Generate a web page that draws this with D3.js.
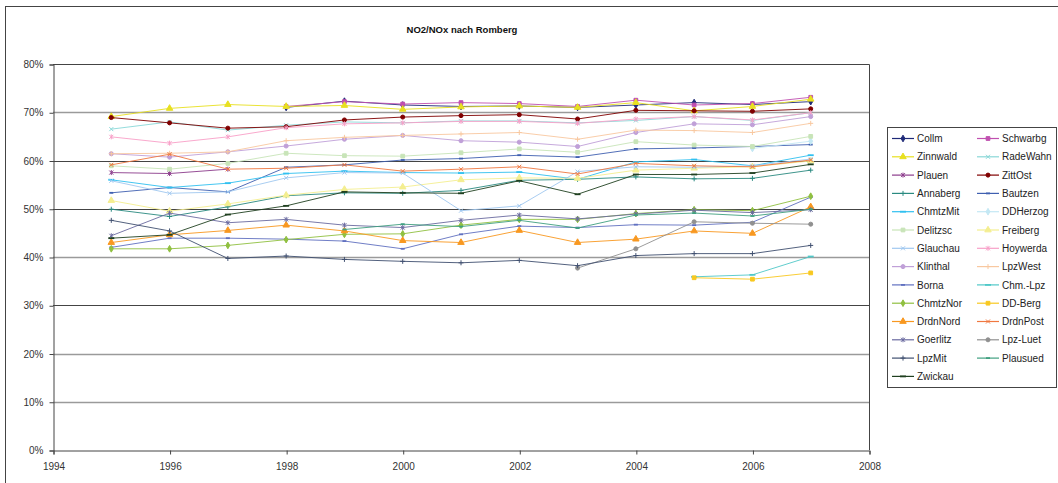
<!DOCTYPE html>
<html><head><meta charset="utf-8">
<script src="https://cdn.jsdelivr.net/npm/d3@7"></script>
<style>
html,body{margin:0;padding:0;background:#fff;overflow:hidden}
text{font-family:"Liberation Sans",Arial,sans-serif}
</style></head>
<body><svg id="c" width="1058" height="483"></svg>
<script>
const years = [1995,1996,1997,1998,1999,2000,2001,2002,2003,2004,2005,2006,2007];
const xTicks = [1994,1996,1998,2000,2002,2004,2006,2008];
const yTicks = [0,0.1,0.2,0.3,0.4,0.5,0.6,0.7,0.8];
const _ = null;
const collm    = [_,_,_,71.0,72.3,71.5,71.2,71.3,71.0,71.5,72.0,71.6,72.2];
const schwarbg = [_,_,_,71.2,72.2,71.7,72.0,71.8,71.2,72.5,71.5,71.8,73.1];
const zinnwald = [69.1,70.8,71.6,71.2,71.4,70.6,71.1,71.3,71.0,72.0,70.3,71.2,72.7];
const radeWahn = [66.5,68.0,66.3,67.3,68.0,67.8,68.2,68.2,67.8,68.3,69.1,68.3,69.9];
const plauen   = [57.5,57.3,58.2,_,_,_,_,_,_,_,_,_,_];
const zittOst  = [68.9,67.8,66.7,67.0,68.4,69.0,69.3,69.5,68.6,70.4,70.3,70.2,70.7];
const annaberg = [49.9,48.4,50.4,52.7,53.3,53.2,53.8,55.9,56.1,56.6,56.2,56.3,58.0];
const bautzen  = [53.3,54.4,53.5,58.6,59.1,60.1,60.4,61.1,60.7,62.4,62.6,62.9,63.3];
const chmtzMit = [56.0,54.4,55.3,57.3,57.8,57.5,57.4,57.6,56.1,59.7,60.2,58.9,61.1];
const ddHerzog = [_,_,_,_,_,_,_,_,_,_,_,62.5,64.0];
const delitzsc = [58.9,58.2,59.4,61.5,61.0,60.9,61.6,62.4,61.7,63.9,63.2,62.9,65.0];
const freiberg = [51.7,49.5,51.0,52.8,54.0,54.5,56.0,56.4,56.3,58.0,58.4,58.7,59.9];
const glauchau = [55.8,53.2,53.5,56.4,57.5,57.4,49.6,50.6,57.7,58.7,58.6,58.9,60.3];
const hoywerda = [64.9,63.6,64.9,66.8,67.6,67.8,68.1,68.1,67.7,68.6,69.1,68.4,69.9];
const klinthal = [61.4,60.7,61.8,63.0,64.4,65.2,64.1,63.8,62.9,65.8,67.6,67.4,69.1];
const lpzWest  = [61.4,61.5,61.8,64.1,64.8,65.2,65.5,65.8,64.4,66.3,66.2,65.8,67.7];
const borna    = [42.0,43.9,43.9,43.7,43.3,41.7,44.7,46.4,46.1,46.7,46.6,47.2,52.4];
const chmLpz   = [_,_,_,_,_,_,_,_,_,_,35.9,36.3,40.1];
const chmtzNor = [41.7,41.7,42.4,43.6,44.7,44.8,46.6,47.8,47.8,49.0,49.8,49.6,52.6];
const ddBerg   = [_,_,_,_,_,_,_,_,_,_,35.7,35.4,36.7];
const drdnNord = [43.0,44.6,45.5,46.6,45.4,43.4,43.0,45.5,43.0,43.7,45.4,44.9,50.4];
const drdnPost = [59.1,61.3,58.2,58.4,59.1,57.8,58.2,58.7,57.2,59.4,58.9,58.7,60.1];
const goerlitz = [44.4,49.1,47.1,47.8,46.6,46.1,47.6,48.7,47.9,48.9,49.7,49.2,49.8];
const lpzLuet  = [_,_,_,_,_,_,_,_,37.7,41.7,47.3,47.0,46.8];
const lpzMit   = [47.6,45.4,39.7,40.2,39.5,39.1,38.8,39.3,38.2,40.3,40.7,40.7,42.4];
const plausued = [_,_,_,_,45.7,46.8,46.3,47.6,46.0,48.7,49.1,48.5,49.9];
const zwickau  = [43.9,44.6,48.8,50.6,53.5,53.3,53.2,55.8,53.0,57.1,57.1,57.4,59.2];

const names  = ["Collm","Schwarbg","Zinnwald","RadeWahn","Plauen","ZittOst","Annaberg","Bautzen","ChmtzMit","DDHerzog","Delitzsc","Freiberg","Glauchau","Hoywerda","Klinthal","LpzWest","Borna","Chm.-Lpz","ChmtzNor","DD-Berg","DrdnNord","DrdnPost","Goerlitz","Lpz-Luet","LpzMit","Plausued","Zwickau"];
const values = [collm,schwarbg,zinnwald,radeWahn,plauen,zittOst,annaberg,bautzen,chmtzMit,ddHerzog,delitzsc,freiberg,glauchau,hoywerda,klinthal,lpzWest,borna,chmLpz,chmtzNor,ddBerg,drdnNord,drdnPost,goerlitz,lpzLuet,lpzMit,plausued,zwickau];
const colors = ["#1f2a78","#c050b0","#e8e020","#8ad8d8","#8c3c8c","#800000","#2a8a80","#3f5fb0","#30c0f0","#c4e8f4","#c8e4b8","#f4ee90","#a0c8f0","#f8a0c8","#c0a0d8","#f8c8a0","#6070c0","#50c8c8","#90c040","#f8c820","#f89820","#f07840","#6a6aa0","#909090","#405070","#40a080","#204020"];
const markerCycle = ["diamond","square","triangle","x","star","circle","plus","dot","dash"];

const svg = d3.select("#c");
const x = d3.scaleLinear().domain([1994,2008]).range([53,869]);
const y = d3.scaleLinear().domain([0,0.8]).range([450,64]);

// outer chart border
svg.append("rect").attr("x",5.5).attr("y",6.5).attr("width",1060).attr("height",490)
  .attr("fill","none").attr("stroke","#444");

// title
svg.append("text").attr("x",462).attr("y",33).attr("text-anchor","middle")
  .attr("font-size",9.5).attr("font-weight","bold").attr("fill","#111").text("NO2/NOx nach Romberg");

// gridlines
const light = new Set([0.1,0.2,0.4,0.7]);
svg.append("g").selectAll("line").data(yTicks.slice(1,-1)).join("line")
  .attr("x1",53).attr("x2",869)
  .attr("y1",d=>Math.round(y(d))+0.5).attr("y2",d=>Math.round(y(d))+0.5)
  .attr("stroke",d=>light.has(d)?"#9a9a9a":"#444")
  .attr("stroke-width",d=>light.has(d)?1.6:1);

// plot border top/right
svg.append("path").attr("d",`M53,${y(0.8)+0.5}H869.5V450`).attr("fill","none").attr("stroke","#444");

// axes
const ya = svg.append("g").attr("transform","translate(53.5,0.5)")
  .call(d3.axisLeft(y).tickValues(yTicks).tickFormat(d3.format(".0%")).tickSize(4).tickPadding(6));
const xa = svg.append("g").attr("transform","translate(0.5,450.5)")
  .call(d3.axisBottom(x).tickValues(xTicks).tickFormat(d=>String(d)).tickSize(4).tickPadding(8));
[ya,xa].forEach(g=>{
  g.select(".domain").attr("stroke","#444");
  g.selectAll(".tick line").attr("stroke","#444");
  g.selectAll("text").attr("font-size",10).attr("fill","#333").attr("font-family","'Liberation Sans',Arial,sans-serif");
});

function markerPath(type){
  switch(type){
    case "diamond": return {d:d3.symbol(d3.symbolDiamond,13)(), fill:true};
    case "square": return {d:d3.symbol(d3.symbolSquare,14)(), fill:true};
    case "triangle": return {d:d3.symbol(d3.symbolTriangle,18)(), fill:true};
    case "circle": return {d:d3.symbol(d3.symbolCircle,13)(), fill:true};
    case "x": return {d:"M-2,-2L2,2M-2,2L2,-2", fill:false};
    case "star": return {d:"M-2,-2L2,2M-2,2L2,-2M0,-2.5V2.5", fill:false};
    case "plus": return {d:"M-2.5,0H2.5M0,-2.5V2.5", fill:false};
    case "dot": return {d:"M-2,0H2", fill:false, w:1.8};
    case "dash": return {d:"M-3,0H3", fill:false, w:1.8};
  }
}

const line = d3.line().defined(d=>d.v!=null).x(d=>x(d.yr)).y(d=>y(d.v/100));
const plot = svg.append("g");
names.forEach((n,i)=>{
  const pts = years.map((yr,j)=>({yr, v: values[i][j]}));
  const col = colors[i];
  plot.append("path").datum(pts).attr("d",line).attr("fill","none")
    .attr("stroke",col).attr("stroke-width",1).attr("stroke-opacity",0.9);
  const m = markerPath(markerCycle[i%9]);
  plot.append("g").selectAll("path").data(pts.filter(d=>d.v!=null)).join("path")
    .attr("transform",d=>`translate(${x(d.yr)},${y(d.v/100)})`)
    .attr("d",m.d)
    .attr("fill",m.fill?col:"none")
    .attr("stroke",col).attr("stroke-width",m.w||1);
});

// legend
const lg = svg.append("g");
lg.append("rect").attr("x",887.5).attr("y",127.5).attr("width",169).attr("height",260)
  .attr("fill","#fff").attr("stroke","#444");
names.forEach((n,i)=>{
  const col = i%2, row = Math.floor(i/2);
  const lx = col===0 ? 892 : 977;
  const ly = 138.5 + row*18.3;
  const g = lg.append("g");
  g.append("line").attr("x1",lx).attr("x2",lx+22).attr("y1",ly).attr("y2",ly)
    .attr("stroke",colors[i]).attr("stroke-width",1.2);
  const m = markerPath(markerCycle[i%9]);
  g.append("path").attr("transform",`translate(${lx+11},${ly})`).attr("d",m.d)
    .attr("fill",m.fill?colors[i]:"none").attr("stroke",colors[i]).attr("stroke-width",m.w||1);
  g.append("text").attr("x",lx+25).attr("y",ly+3.6).attr("font-size",10).attr("fill","#222").text(n);
});
</script>
</body></html>
